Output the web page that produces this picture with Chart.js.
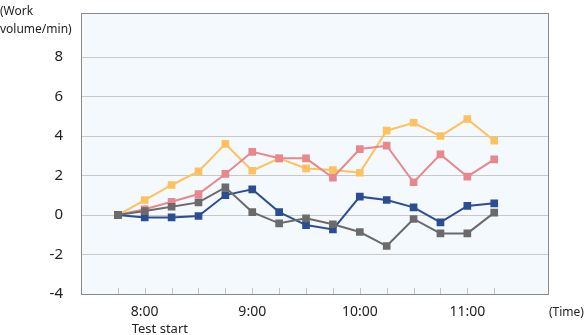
<!DOCTYPE html>
<html>
<head>
<meta charset="utf-8">
<script src="https://cdn.jsdelivr.net/npm/chart.js@4.4.1/dist/chart.umd.min.js"></script>
<style>
  html, body { margin: 0; padding: 0; background: #fff; }
  #wrap { width: 585px; height: 335px; position: relative; }
</style>
</head>
<body>
<div id="wrap"><canvas id="workChart"></canvas></div>
<script>
// 15-minute steps from just before the test start
const times = ['7:45', '8:00', '8:15', '8:30', '8:45', '9:00', '9:15', '9:30', '9:45', '10:00', '10:15', '10:30', '10:45', '11:00', '11:15'];
const yTicks = [-4, -2, 0, 2, 4, 6, 8];

const orangeValues = [0, 0.76, 1.52, 2.21, 3.6, 2.24, 2.87, 2.36, 2.28, 2.14, 4.27, 4.67, 4.0, 4.86, 3.76];
const pinkValues = [0, 0.29, 0.67, 1.06, 2.08, 3.2, 2.87, 2.87, 1.89, 3.34, 3.51, 1.66, 3.07, 1.94, 2.82];
const blueValues = [0, -0.12, -0.12, -0.05, 1.01, 1.3, 0.15, -0.51, -0.73, 0.93, 0.76, 0.39, -0.37, 0.46, 0.59];
const grayValues = [0, 0.2, 0.42, 0.64, 1.4, 0.15, -0.42, -0.17, -0.47, -0.86, -1.57, -0.2, -0.93, -0.93, 0.12];

const FONT = "'Noto Sans', sans-serif";
const TEXT = '#222';

function toPoints(values) {
    return values.map((v, i) => ({ x: i, y: v }));
}

function makeSet(label, values, color) {
    return {
        label: label,
        data: toPoints(values),
        borderColor: color,
        backgroundColor: color,
        borderWidth: 2,
        pointStyle: 'rect',
        pointRadius: 4,
        pointHoverRadius: 4,
        tension: 0
    };
}

// background, frame, inner tick marks and extra texts
const decor = {
    id: 'decor',
    beforeDraw(chart) {
        const { ctx, chartArea: a } = chart;
        ctx.save();
        ctx.fillStyle = '#f3f9fd';
        ctx.fillRect(a.left, a.top, a.right - a.left, a.bottom - a.top);
        ctx.restore();
    },
    afterDatasetsDraw(chart) {
        const { ctx, chartArea: a, scales } = chart;
        ctx.save();
        ctx.strokeStyle = '#c4c4c4';
        ctx.lineWidth = 1;
        times.forEach((t, i) => {
            const x = Math.round(scales.x.getPixelForValue(i)) + 0.5;
            ctx.beginPath();
            ctx.moveTo(x, a.bottom);
            ctx.lineTo(x, a.bottom - 6);
            ctx.stroke();
        });
        ctx.strokeStyle = '#8a8a8a';
        ctx.strokeRect(Math.round(a.left) + 0.5, Math.round(a.top) + 0.5,
            Math.round(a.right - a.left), Math.round(a.bottom - a.top));

        ctx.fillStyle = TEXT;
        ctx.textBaseline = 'middle';
        ctx.textAlign = 'left';
        ctx.font = '12px ' + FONT;
        ctx.fillText('(Work', 0, 12);
        ctx.fillText('volume/min)', 0, 30);
        ctx.fillText('(Time)', 549, 313);
        const x8 = scales.x.getPixelForValue(1);
        ctx.font = '13px ' + FONT;
        ctx.fillText('Test start', x8 - 13, 329);
        ctx.restore();
    }
};

new Chart(document.getElementById('workChart'), {
    type: 'line',
    data: {
        datasets: [
            makeSet('Gray', grayValues, '#6b6b6b'),
            makeSet('Blue', blueValues, '#2c4d92'),
            makeSet('Pink', pinkValues, '#e8878c'),
            makeSet('Orange', orangeValues, '#ffc15e')
        ]
    },
    options: {
        responsive: true,
        maintainAspectRatio: false,
        animation: false,
        layout: { padding: { top: 13, right: 37, left: 0, bottom: 0 } },
        plugins: {
            legend: { display: false },
            tooltip: { enabled: false }
        },
        scales: {
            x: {
                type: 'linear',
                min: -1.37,
                max: 16,
                afterBuildTicks: s => { s.ticks = times.map((t, i) => ({ value: i })); },
                afterFit: s => { s.height = 41; s.paddingLeft = 0; s.paddingRight = 0; },
                grid: { display: false, drawTicks: false },
                border: { display: false },
                ticks: {
                    autoSkip: false,
                    maxRotation: 0,
                    padding: 10,
                    color: TEXT,
                    font: { family: FONT, size: 14 },
                    callback: v => (times[v] && times[v].endsWith(':00')) ? times[v] : ''
                }
            },
            y: {
                min: -4,
                max: 10.23,
                afterBuildTicks: s => { s.ticks = yTicks.map(v => ({ value: v })); },
                afterFit: s => { s.width = 81; s.paddingTop = 0; s.paddingBottom = 0; },
                grid: { color: '#c8c8c8', lineWidth: 1, drawTicks: false },
                border: { display: false },
                ticks: {
                    padding: 18,
                    color: TEXT,
                    font: { family: FONT, size: 15 }
                }
            }
        }
    },
    plugins: [decor]
});
</script>
</body>
</html>
